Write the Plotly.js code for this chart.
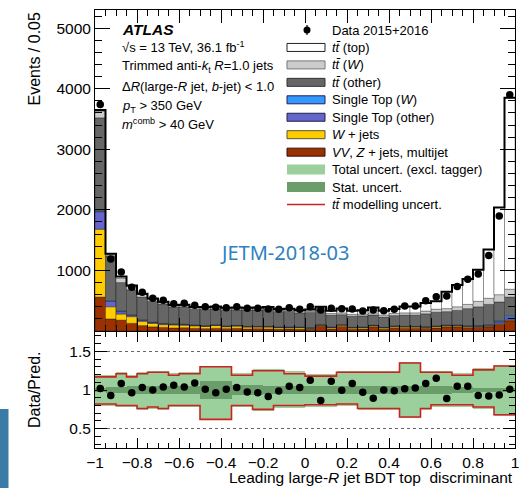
<!DOCTYPE html>
<html><head><meta charset="utf-8">
<script src="https://cdn.plot.ly/plotly-3.0.1.min.js"></script>
<style>html,body{margin:0;padding:0;background:#fff}#c{width:523px;height:488px}</style>
</head><body><div id="c"></div>
<script>
// bin lower edges (category definitions), 40 bins of width 0.05
const binLo = Array.from({length:40},(_,i)=>+(-1+0.05*i).toFixed(2));
const binW = 0.05;

// stacked MC components (events / 0.05)
const vvZjetsMultijet = [560,200,180,127,90,70,60,50,55,45,40,45,40,45,35,40,35,30,35,30,30,80,35,75,30,35,70,30,55,45,45,45,50,70,70,55,60,70,110,170];
const wJets = [1120,200,100,110,70,55,45,50,40,40,35,45,30,35,30,25,30,25,20,25,15,15,20,20,20,20,15,20,20,20,20,15,20,15,15,15,10,10,10,10];
const singleTopOther = [290,90,40,25,20,15,15,12,12,10,10,10,10,10,8,8,8,8,8,7,7,7,7,7,7,7,8,8,8,8,8,8,9,10,10,12,12,15,30,40];
const singleTopW = [10,10,10,5,5,5,5,5,4,4,4,4,4,4,3,3,3,3,3,3,3,3,3,3,3,3,3,3,3,3,3,4,4,5,5,6,8,10,15,30];
const ttOther = [1540,740,470,413,375,345,320,278,289,261,271,261,261,256,269,271,279,254,256,235,250,240,197,165,185,185,169,169,169,186,186,213,227,220,240,282,310,335,315,310];
const ttW = [110,20,75,60,45,35,30,25,25,25,25,25,25,25,25,25,25,25,26,25,25,25,28,30,30,30,35,35,35,38,38,45,50,50,60,70,90,100,120,130];
const ttTop = [20,15,25,10,10,10,10,10,10,10,13,15,12,14,14,15,18,18,20,21,27,32,46,70,59,61,88,71,72,106,103,132,132,280,360,420,520,805,1440,3160];

// data
const dataEvents = [3740,1190,975,722,640,540,507,451,457,424,402,391,386,402,374,374,364,358,386,358,402,347,374,369,362,331,347,336,358,413,413,501,567,578,733,855,942,1245,1900,3900];

// ratio panel
const dataOverPred = [1.02,0.93,1.085,0.966,1.034,1.0,1.04,1.06,1.04,1.09,1.01,0.966,1.01,1.034,0.975,0.966,0.915,0.987,1.05,1.034,1.127,0.864,1.114,0.996,1.085,0.97,0.894,1.0,0.99,1.017,1.025,1.085,1.153,0.89,1.05,1.05,0.93,0.924,0.936,1.01];
const statErr = [0.03,0.04,0.04,0.05,0.05,0.05,0.05,0.05,0.05,0.05,0.12,0.12,0.12,0.06,0.06,0.06,0.05,0.05,0.05,0.05,0.05,0.05,0.05,0.05,0.05,0.05,0.05,0.05,0.05,0.05,0.05,0.05,0.05,0.05,0.04,0.04,0.03,0.03,0.02,0.02];
const totHi = [1.2,1.2,1.23,1.2,1.23,1.25,1.25,1.22,1.23,1.23,1.31,1.31,1.31,1.22,1.22,1.27,1.27,1.27,1.24,1.24,1.21,1.21,1.21,1.25,1.25,1.25,1.25,1.25,1.25,1.36,1.36,1.25,1.25,1.25,1.22,1.22,1.28,1.28,1.32,1.32];
const totLo = [0.79,0.79,0.78,0.78,0.74,0.76,0.74,0.78,0.78,0.78,0.61,0.61,0.61,0.78,0.78,0.73,0.73,0.77,0.77,0.77,0.78,0.78,0.78,0.79,0.79,0.74,0.74,0.74,0.74,0.64,0.64,0.74,0.78,0.78,0.78,0.78,0.76,0.76,0.67,0.67];
const modelHi = [1.17,1.17,1.21,1.17,1.21,1.23,1.23,1.19,1.21,1.21,1.30,1.30,1.30,1.19,1.19,1.25,1.25,1.25,1.21,1.21,1.18,1.18,1.18,1.23,1.23,1.23,1.23,1.23,1.23,1.35,1.35,1.23,1.23,1.23,1.19,1.19,1.26,1.26,1.31,1.31];
const modelLo = [0.82,0.82,0.80,0.80,0.76,0.78,0.76,0.80,0.80,0.80,0.62,0.62,0.62,0.80,0.80,0.75,0.75,0.80,0.80,0.80,0.81,0.81,0.81,0.82,0.82,0.76,0.76,0.76,0.76,0.65,0.65,0.76,0.81,0.81,0.81,0.81,0.78,0.78,0.68,0.68];

// ---------- build ----------
const centers = binLo.map(v=>v+binW/2);
const edges = binLo.concat([1]);
const stepY = arr => arr.concat([arr[arr.length-1]]);

const comps = [
  {y:vvZjetsMultijet, c:'#9b3000'},
  {y:wJets, c:'#ffcc00'},
  {y:singleTopOther, c:'#6464cc'},
  {y:singleTopW, c:'#3399ff'},
  {y:ttOther, c:'#666666'},
  {y:ttW, c:'#cccccc'},
  {y:ttTop, c:'#ffffff'}
];
const traces = [];
let cum = new Array(40).fill(0);
comps.forEach(cp=>{
  traces.push({type:'bar', x:centers, y:cp.y, base:cum.slice(), width:binW, xaxis:'x', yaxis:'y',
    marker:{color:cp.c, line:{color:'rgba(0,0,0,0.55)', width:0.6}}, hoverinfo:'skip'});
  cum = cum.map((v,i)=>v+cp.y[i]);
});
traces.push({type:'scatter', mode:'lines', x:edges, y:stepY(cum), line:{shape:'hv', color:'#000', width:2}, xaxis:'x', yaxis:'y'});
traces.push({type:'scatter', mode:'markers', x:centers, y:dataEvents, marker:{color:'#000', size:7.5}, xaxis:'x', yaxis:'y'});

// ratio
traces.push({type:'bar', x:centers, y:totHi.map((v,i)=>v-totLo[i]), base:totLo, width:binW, xaxis:'x2', yaxis:'y2', marker:{color:'#9bcf9b', line:{width:0}}});
traces.push({type:'bar', x:centers, y:statErr.map(v=>2*v), base:statErr.map(v=>1-v), width:binW, xaxis:'x2', yaxis:'y2', marker:{color:'#6b9d6b', line:{width:0}}});
traces.push({type:'scatter', mode:'lines', x:edges, y:stepY(modelHi), line:{shape:'hv', color:'#cc2222', width:1.6}, xaxis:'x2', yaxis:'y2'});
traces.push({type:'scatter', mode:'lines', x:edges, y:stepY(modelLo), line:{shape:'hv', color:'#cc2222', width:1.6}, xaxis:'x2', yaxis:'y2'});
traces.push({type:'scatter', mode:'markers', x:centers, y:dataOverPred, marker:{color:'#000', size:7.5}, xaxis:'x2', yaxis:'y2'});

// pixel -> paper helpers (plot area x 95..515, y 10..448)
const L=95, R=515, T=10, B=448;
const px = x => (x-L)/(R-L);
const py = y => (B-y)/(B-T);

const FONT = 'Liberation Sans, Arial, Helvetica, sans-serif';
const ann = [];
const shapes = [];
function txt(x,y,text,size,opts){ ann.push(Object.assign({xref:'paper',yref:'paper',x:px(x),y:py(y),text:text,showarrow:false,xanchor:'left',yanchor:'middle',font:{family:FONT,size:size,color:'#000'}},opts||{})); }

// ATLAS label block
txt(120,29,'<b><i>ATLAS</i></b>',15.5);
txt(120,47,'√s = 13 TeV, 36.1 fb<sup>-1</sup>',13);
txt(120,67,'Trimmed anti-<i>k</i><sub>t</sub> <i>R</i>=1.0 jets',13);
txt(120,87,'Δ<i>R</i>(large-<i>R</i> jet, <i>b</i>-jet) &lt; 1.0',13);
txt(120,106,'<i>p</i><sub>T</sub> &gt; 350 GeV',13);
txt(120,124,'<i>m</i><sup>comb</sup> &gt; 40 GeV',13);

// legend (drawn by hand, ATLAS style)
const legendRows = [
  {label:'Data 2015+2016', kind:'data'},
  {label:'<i>tt̄</i> (top)', kind:'box', fill:'#ffffff', line:'#222'},
  {label:'<i>tt̄</i> (<i>W</i>)', kind:'box', fill:'#cccccc', line:'#777'},
  {label:'<i>tt̄</i> (other)', kind:'box', fill:'#666666', line:'#333'},
  {label:'Single Top (<i>W</i>)', kind:'box', fill:'#3399ff', line:'#225'},
  {label:'Single Top (other)', kind:'box', fill:'#6464cc', line:'#224'},
  {label:'<i>W</i> + jets', kind:'box', fill:'#ffcc00', line:'#553'},
  {label:'<i>VV</i>, <i>Z</i> + jets, multijet', kind:'box', fill:'#9b3000', line:'#311'},
  {label:'Total uncert. (excl. tagger)', kind:'band', fill:'#9bcf9b'},
  {label:'Stat. uncert.', kind:'band', fill:'#6b9d6b'},
  {label:'<i>tt̄</i> modelling uncert.', kind:'line', color:'#cc2222'}
];
legendRows.forEach((r,k)=>{
  const yc = 30 + 17.45*k;
  txt(330,yc,r.label,13);
  if(r.kind==='data'){
    shapes.push({type:'line',xref:'paper',yref:'paper',x0:px(307),x1:px(307),y0:py(yc-5),y1:py(yc+5),line:{color:'#000',width:1.2}});
    shapes.push({type:'circle',xref:'paper',yref:'paper',x0:px(303.5),x1:px(310.5),y0:py(yc-3.5),y1:py(yc+3.5),fillcolor:'#000',line:{color:'#000',width:0}});
  } else if(r.kind==='box'){
    shapes.push({type:'rect',xref:'paper',yref:'paper',x0:px(287),x1:px(325),y0:py(yc-4),y1:py(yc+4),fillcolor:r.fill,line:{color:r.line,width:1}});
  } else if(r.kind==='band'){
    shapes.push({type:'rect',xref:'paper',yref:'paper',x0:px(287),x1:px(325),y0:py(yc-5),y1:py(yc+5),fillcolor:r.fill,line:{width:0}});
  } else {
    shapes.push({type:'line',xref:'paper',yref:'paper',x0:px(287),x1:px(325),y0:py(yc),y1:py(yc),line:{color:r.color,width:1.6}});
  }
});

// watermark
ann.push({xref:'paper',yref:'paper',x:px(284),y:py(252),text:'JETM-2018-03',showarrow:false,xanchor:'center',yanchor:'middle',font:{family:'Noto Sans, sans-serif',size:20,color:'#2e80c0'}});

// axis titles
ann.push({xref:'paper',yref:'paper',x:px(34),y:py(10),text:'Events / 0.05',textangle:-90,showarrow:false,xanchor:'center',yanchor:'top',font:{family:FONT,size:16,color:'#000'}});
ann.push({xref:'paper',yref:'paper',x:px(34),y:py(390),text:'Data/Pred.',textangle:-90,showarrow:false,xanchor:'center',yanchor:'middle',font:{family:FONT,size:16,color:'#000'}});
ann.push({xref:'paper',yref:'paper',x:px(515),y:py(477),text:'Leading large-<i>R</i> jet BDT top  discriminant',showarrow:false,xanchor:'right',yanchor:'middle',font:{family:FONT,size:15.5,color:'#000'}});

// side decoration bar
shapes.push({type:'rect',xref:'paper',yref:'paper',x0:px(0),x1:px(8.5),y0:py(488),y1:py(409),fillcolor:'#3b7ca6',line:{width:0},layer:'above'});

const axCommon = {showline:true, linecolor:'#000', linewidth:1, mirror:'allticks', ticks:'inside', tickcolor:'#000', showgrid:false, zeroline:false};
const layout = {
  width:523, height:488,
  margin:{l:L, r:523-R, t:T, b:488-B},
  paper_bgcolor:'#fff', plot_bgcolor:'#fff',
  showlegend:false, barmode:'overlay', bargap:0,
  font:{family:FONT, size:15, color:'#000'},
  xaxis: Object.assign({}, axCommon, {domain:[0,1], anchor:'y', range:[-1,1], tick0:-1, dtick:0.2, ticklen:13, showticklabels:false,
    minor:{dtick:0.05, ticklen:6, ticks:'inside', tickcolor:'#000', showgrid:false}}),
  yaxis: Object.assign({}, axCommon, {domain:[0.2671,1], anchor:'x', range:[0,5300], tickvals:[1000,2000,3000,4000,5000], ticklen:15,
    minor:{dtick:200, tick0:0, ticklen:7, ticks:'inside', tickcolor:'#000', showgrid:false}, tickfont:{size:15.5}}),
  xaxis2: Object.assign({}, axCommon, {domain:[0,1], anchor:'y2', range:[-1,1], tick0:-1, dtick:0.2, ticklen:10,
    minor:{dtick:0.05, ticklen:5, ticks:'inside', tickcolor:'#000', showgrid:false}, tickfont:{size:15.5}}),
  yaxis2: Object.assign({}, axCommon, {domain:[0,0.2648], anchor:'x2', range:[0.25,1.75], tickvals:[0.5,1,1.5], ticktext:['0.5','1','1.5'], ticklen:12,
    showgrid:true, gridcolor:'#666', griddash:'dot', gridwidth:1,
    minor:{dtick:0.1, tick0:0, ticklen:6, ticks:'inside', tickcolor:'#000', showgrid:false}, tickfont:{size:15.5}}),
  annotations: ann,
  shapes: shapes
};
Plotly.newPlot('c', traces, layout, {staticPlot:true, displayModeBar:false});
</script></body></html>
